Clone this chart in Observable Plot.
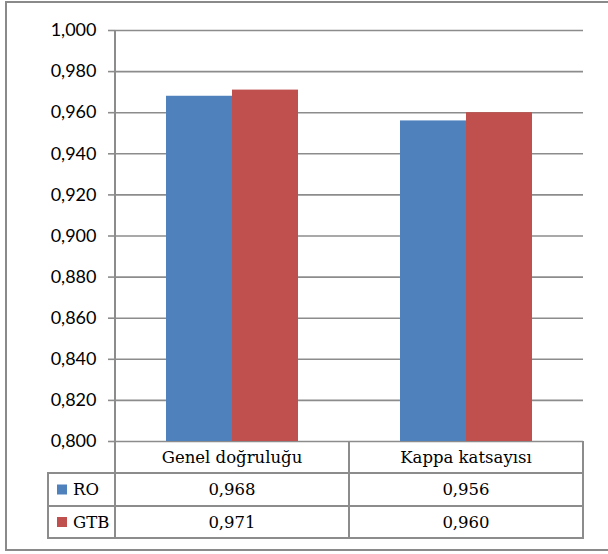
<!DOCTYPE html>
<html>
<head>
<meta charset="utf-8">
<script src="https://cdn.jsdelivr.net/npm/d3@7"></script>
<script src="https://cdn.jsdelivr.net/npm/@observablehq/plot@0.6"></script>
<style>
  html, body { margin: 0; padding: 0; background: #fff; }
  #wrap { position: relative; width: 608px; height: 554px; overflow: hidden; }
  #border { position: absolute; left: 5px; top: 1px; width: 620px; height: 550px; border: 2px solid #8a8a8a; box-sizing: border-box; }
  #chart { position: absolute; left: 0; top: 0; }
</style>
</head>
<body>
<div id="wrap">
  <div id="border"></div>
  <div id="chart"></div>
</div>
<script>
const categories = ["Genel doğruluğu", "Kappa katsayısı"];
const series = ["RO", "GTB"];
const roValues = [0.968, 0.956];
const gtbValues = [0.971, 0.960];
const yTicks = [0.800, 0.820, 0.840, 0.860, 0.880, 0.900, 0.920, 0.940, 0.960, 0.980, 1.000];
const colors = ["#4F81BD", "#C0504D"];

const valuesBySeries = {RO: roValues, GTB: gtbValues};
const data = categories.flatMap((c, i) => series.map(s => ({category: c, series: s, value: valuesBySeries[s][i]})));
const fmt = v => d3.format(".3f")(v).replace(".", ",");
const lineColor = "#8c8c8c";

const chart = Plot.plot({
  width: 608, height: 554,
  marginLeft: 115, marginRight: 25, marginTop: 30, marginBottom: 113,
  style: {fontFamily: "Lato", fontSize: "18px", color: "#000", background: "transparent"},
  fx: {domain: categories, padding: 0, axis: null},
  x: {domain: series, paddingInner: 0, paddingOuter: 0.76, axis: null},
  y: {domain: [yTicks[0], yTicks[yTicks.length - 1]], ticks: yTicks, tickFormat: fmt, label: null},
  color: {domain: series, range: colors},
  marks: [
    Plot.gridY(yTicks, {stroke: lineColor, strokeOpacity: 1, strokeWidth: 1.6}),
    Plot.axisY(yTicks, {tickFormat: fmt, tickSize: 7, tickPadding: 12, stroke: lineColor, strokeWidth: 1.6, label: null, fill: "#000"}),
    Plot.barY(data, {fx: "category", x: "series", y1: yTicks[0], y2: "value", fill: "series"})
  ]
});
document.getElementById("chart").appendChild(chart);

// Data table drawn from the scales
const fx = chart.scale("fx");
const ys = chart.scale("y");
const bw = fx.bandwidth;
const colLeft = categories.map(c => fx.apply(c));
const tableRight = colLeft[colLeft.length - 1] + bw;
const axisX = colLeft[0];
const legendLeft = 48;
const yTop = ys.apply(yTicks[yTicks.length - 1]);
const y0 = ys.apply(yTicks[0]);
const rowH = [32, 33, 32];
const rowY = [y0, y0 + rowH[0], y0 + rowH[0] + rowH[1], y0 + rowH[0] + rowH[1] + rowH[2]];

const svg = d3.select(chart);
const g = svg.append("g").attr("stroke", lineColor).attr("stroke-width", 2).attr("fill", "none");
g.append("line").attr("x1", axisX).attr("x2", axisX).attr("y1", yTop).attr("y2", rowY[3]);
colLeft.slice(1).concat([tableRight]).forEach(x => g.append("line").attr("x1", x).attr("x2", x).attr("y1", y0).attr("y2", rowY[3]));
g.append("line").attr("x1", legendLeft).attr("x2", legendLeft).attr("y1", rowY[1]).attr("y2", rowY[3]);
[1, 2, 3].forEach(i => g.append("line").attr("x1", legendLeft - 1).attr("x2", tableRight + 1).attr("y1", rowY[i]).attr("y2", rowY[i]));

const t = svg.append("g").attr("font-family", "'DejaVu Serif'").attr("font-size", 16.5).attr("fill", "#000").attr("text-anchor", "middle");
categories.forEach((c, i) => {
  const cx = colLeft[i] + bw / 2;
  t.append("text").attr("x", cx).attr("y", (rowY[0] + rowY[1]) / 2).attr("dy", "0.35em").text(c);
  series.forEach((s, j) => {
    t.append("text").attr("x", cx).attr("y", (rowY[j + 1] + rowY[j + 2]) / 2).attr("dy", "0.35em").text(fmt(valuesBySeries[s][i]));
  });
});
series.forEach((s, j) => {
  const cy = (rowY[j + 1] + rowY[j + 2]) / 2;
  svg.append("rect").attr("x", 57).attr("y", cy - 5).attr("width", 10).attr("height", 10).attr("fill", colors[j]);
  t.append("text").attr("x", 73).attr("y", cy).attr("dy", "0.35em").attr("text-anchor", "start").text(s);
});
</script>
</body>
</html>
